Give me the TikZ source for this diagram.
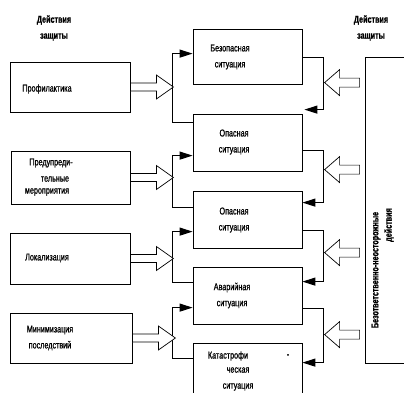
\documentclass[tikz,border=0pt]{standalone}
\usepackage{fontspec}
\setmainfont{Liberation Sans}
\newfontfamily\cond[FakeStretch=0.72,FakeBold=0.8]{Liberation Sans}
\usetikzlibrary{arrows.meta,calc}
\tikzset{
  box/.style={draw, line width=0.8pt, inner sep=0pt},
  lbl/.style={font=\cond\fontsize{10}{16}\selectfont, inner sep=0pt, align=center},
  hdr/.style={font=\cond\bfseries\fontsize{10}{16}\selectfont, inner sep=0pt, align=center},
  conn/.style={line width=1.1pt},
  tipped/.style={-{Triangle[length=13pt,width=8pt]}},
  hollow/.style={draw, line width=0.7pt, fill=white},
  pics/larrow/.style={code={\draw[hollow] (0,-4) -- (26,-4) -- (26,-12) -- (43,0) -- (26,12) -- (26,4) -- (0,4) -- cycle;}},
  pics/rarrow/.style={code={\draw[hollow] (0,-4.5) -- (-20,-4.5) -- (-20,-13) -- (-35,0) -- (-20,13) -- (-20,4.5) -- (0,4.5) -- cycle;}}
}
\begin{document}
\begin{tikzpicture}[x=1pt,y=-1pt]
\useasboundingbox (0,0) rectangle (404,392);
\clip (0,0) rectangle (404,392);

% headers
\node[hdr] (h1) at (54,28) {Действия\\защиты};
\node[hdr] (h2) at (371,28) {Действия\\защиты};

% left boxes
\node[box, minimum width=120pt, minimum height=50pt] (l1) at (70,87) {};
\node[box, minimum width=119pt, minimum height=53pt] (l2) at (70.5,177.5) {};
\node[box, minimum width=120pt, minimum height=51pt] (l3) at (70,258.5) {};
\node[box, minimum width=122pt, minimum height=50pt] (l4) at (71,338) {};

\node[lbl] (tl1) at (47,89) {Профилактика};
\node[lbl] (tl2a) at (51,163) {Предупреди-};
\node[lbl] (tl2b) at (55,179) {тельные};
\node[lbl] (tl2c) at (47,192) {мероприятия};
\node[lbl] (tl3) at (47,258) {Локализация};
\node[lbl] (tl4) at (50,338) {Минимизация\\последствий};

% centre boxes
\node[box, minimum width=109pt, minimum height=55pt] (b1) at (247.5,56.5) {};
\node[box, minimum width=109pt, minimum height=57pt] (b2) at (247.5,142.5) {};
\node[box, minimum width=109pt, minimum height=57pt] (b3) at (247.5,219.5) {};
\node[box, minimum width=109pt, minimum height=57pt] (b4) at (247.5,295.5) {};
\node[box, minimum width=109pt, minimum height=57pt] (b5) at (247.5,371.5) {};

\node[lbl] (tb1) at (230,57) {Безопасная\\ситуация};
\node[lbl] (tb2) at (234,142) {Опасная\\ситуация};
\node[lbl] (tb3) at (234,220) {Опасная\\ситуация};
\node[lbl] (tb4) at (232,295.5) {Аварийная\\ситуация};
\node[lbl] (tb5a) at (228,356) {Катастрофи};
\node[lbl] (tb5h) at (288,356) {-};
\node[lbl] (tb5b) at (238,379) {ческая\\ситуация};

% right big box
\node[box, minimum width=55pt, minimum height=306pt] (rb) at (392.5,210) {};
\node[hdr, rotate=90] (v1) at (376,270) {Безответственно-неосторожные};
\node[hdr, rotate=90] (v2) at (389,225) {действия};

% left connectors
\draw[conn,tipped] ($(b2.north west)+(0,9)$) -| ($(b1.north west)+(-20,25)$) -- ($(b1.north west)+(0,25)$);
\draw[conn,tipped] ($(b3.north west)+(0,17)$) -| ($(b2.north west)+(-20,42)$) -- ($(b2.north west)+(0,42)$);
\draw[conn,tipped] ($(b4.north west)+(0,16)$) -| ($(b3.north west)+(-20,41)$) -- ($(b3.north west)+(0,41)$);
\draw[conn,tipped] ($(b5.north west)+(0,16)$) -| ($(b4.north west)+(-20,41)$) -- ($(b4.north west)+(0,41)$);

% right connectors
\draw[conn,tipped] ($(b1.north east)+(0,29)$) -| ($(b2.north east)+(21,-4)$) -- ($(b2.north east)+(2,-4)$);
\draw[conn,tipped] ($(b2.north east)+(0,37)$) -| ($(b3.north east)+(21,12)$) -- ($(b3.north east)+(0,12)$);
\draw[conn,tipped] ($(b3.north east)+(0,40)$) -| ($(b4.north east)+(21,15)$) -- ($(b4.north east)+(0,15)$);
\draw[conn,tipped] ($(b4.north east)+(0,42)$) -| ($(b5.north east)+(21,20)$) -- ($(b5.north east)+(0,20)$);

% hollow arrows left
\pic at (l1.east) {larrow};
\pic at (l2.east) {larrow};
\pic at (l3.east) {larrow};
\pic at (l4.east) {larrow};

% hollow arrows right
\pic at ($(rb.north west)+(-5,26)$) {rarrow};
\pic at ($(rb.north west)+(-5,113)$) {rarrow};
\pic at ($(rb.north west)+(-5,196)$) {rarrow};
\pic at ($(rb.north west)+(-5,278)$) {rarrow};
\end{tikzpicture}
\end{document}
